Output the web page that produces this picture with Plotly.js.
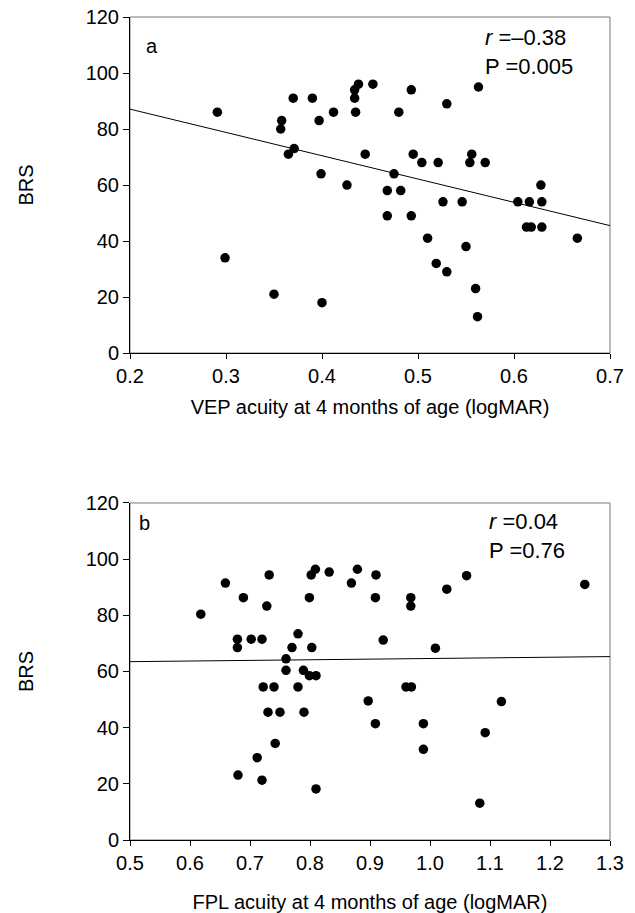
<!DOCTYPE html>
<html>
<head>
<meta charset="utf-8">
<script src="https://cdn.plot.ly/plotly-3.0.1.min.js"></script>
<style>html,body{margin:0;padding:0;background:#fff}#chart{width:635px;height:913px}</style>
</head>
<body>
<div id="chart"></div>
<script>
// Panel a: VEP acuity (logMAR) vs BRS
const vepAcuity = [0.291,0.358,0.357,0.370,0.390,0.397,0.412,0.434,0.434,0.438,0.435,0.453,0.371,0.365,0.445,0.399,0.426,
  0.493,0.563,0.480,0.530,0.495,0.504,0.521,0.556,0.554,0.570,0.475,0.628,0.468,0.482,0.468,0.493,0.526,0.546,0.604,0.616,0.629,
  0.613,0.618,0.629,0.666,0.510,0.550,0.519,0.530,0.560,0.562,0.299,0.350,0.400];
const vepBRS = [86,83,80,91,91,83,86,91,94,96,86,96,73,71,71,64,60,
  94,95,86,89,71,68,68,71,68,68,64,60,58,58,49,49,54,54,54,54,54,
  45,45,45,41,41,38,32,29,23,13,34,21,18];
const vepFitX = [0.2, 0.7];
const vepFitY = [87.1, 45.5];

// Panel b: FPL acuity (logMAR) vs BRS
const fplAcuity = [0.618,0.659,0.689,0.732,0.728,0.799,0.802,0.809,0.832,0.869,0.879,0.910,0.909,0.679,0.679,0.702,0.720,0.780,
  0.770,0.803,0.760,0.760,0.789,0.799,0.810,0.722,0.740,0.780,0.897,0.968,0.968,1.028,1.061,1.258,0.922,1.009,0.960,0.969,1.119,
  0.730,0.750,0.790,0.909,0.742,0.712,0.680,0.720,0.810,0.989,0.989,1.092,1.083];
const fplBRS = [80.4,91.5,86.3,94.4,83.3,86.3,94.4,96.4,95.4,91.5,96.4,94.4,86.3,71.5,68.5,71.5,71.5,73.4,
  68.5,68.5,64.5,60.4,60.4,58.5,58.5,54.5,54.5,54.5,49.5,86.3,83.3,89.3,94.1,91.0,71.2,68.3,54.5,54.5,49.3,
  45.5,45.5,45.5,41.4,34.4,29.3,23.1,21.3,18.2,41.4,32.3,38.2,13.1];
const fplFitX = [0.5, 1.3];
const fplFitY = [63.5, 65.3];

const panelLabels = ['a', 'b'];
const statsA = ['<i>r</i> =\u20130.38', 'P =0.005'];
const statsB = ['<i>r</i> =0.04', 'P =0.76'];
const xTitleA = 'VEP acuity at 4 months of age (logMAR)';
const xTitleB = 'FPL acuity at 4 months of age (logMAR)';
const yTitle = 'BRS';
const yTicks = [0,20,40,60,80,100,120];
const xTicksA = [0.2,0.3,0.4,0.5,0.6,0.7];
const xTicksB = [0.5,0.6,0.7,0.8,0.9,1.0,1.1,1.2,1.3];

const FONT = 'Liberation Sans, Arial, sans-serif';
const dot = {color:'#000', size:9.5};

const traces = [
  {x: vepAcuity, y: vepBRS, type:'scatter', mode:'markers', marker: dot, xaxis:'x', yaxis:'y', showlegend:false, cliponaxis:false},
  {x: vepFitX, y: vepFitY, type:'scatter', mode:'lines', line:{color:'#000', width:1}, xaxis:'x', yaxis:'y', showlegend:false},
  {x: fplAcuity, y: fplBRS, type:'scatter', mode:'markers', marker: dot, xaxis:'x2', yaxis:'y2', showlegend:false, cliponaxis:false},
  {x: fplFitX, y: fplFitY, type:'scatter', mode:'lines', line:{color:'#000', width:1}, xaxis:'x2', yaxis:'y2', showlegend:false}
];

function xax(range, ticks, title, anchor, standoff){
  return {range: range, tickvals: ticks, ticktext: ticks.map(v=>v.toFixed(1)), anchor: anchor,
    showline:true, linecolor:'#000', linewidth:1, ticks:'outside', ticklen:5, tickcolor:'#000',
    showgrid:false, zeroline:false, tickfont:{family:FONT, size:20, color:'#000'},
    title:{text:title, font:{family:FONT, size:20, color:'#000'}, standoff:standoff}};
}
function yax(domain, anchor){
  return {range:[0,120], tickvals: yTicks, domain: domain, anchor: anchor,
    showline:true, linecolor:'#000', linewidth:1, ticks:'outside', ticklen:6, tickcolor:'#000',
    showgrid:false, zeroline:false, tickfont:{family:FONT, size:20, color:'#000'},
    title:{text:yTitle, font:{family:FONT, size:20, color:'#000'}, standoff:46}};
}

const ann = [];
function addAnn(txt, xr, yr, x, y, xanchor, size){
  ann.push({text:txt, xref:xr, yref:yr, x:x, y:y, xanchor:xanchor, yanchor:'middle', showarrow:false,
    font:{family:FONT, size:size, color:'#000'}});
}
addAnn(panelLabels[0], 'x domain', 'y domain', 0.03, 0.915, 'left', 20);
addAnn(statsA[0], 'x domain', 'y domain', 0.735, 0.94, 'left', 22);
addAnn(statsA[1], 'x domain', 'y domain', 0.735, 0.852, 'left', 22);
addAnn(panelLabels[1], 'x2 domain', 'y2 domain', 0.015, 0.94, 'left', 20);
addAnn(statsB[0], 'x2 domain', 'y2 domain', 0.743, 0.945, 'left', 22);
addAnn(statsB[1], 'x2 domain', 'y2 domain', 0.743, 0.86, 'left', 22);

const shapes = [
  {type:'rect', xref:'x domain', yref:'y domain', x0:0, x1:1, y0:0, y1:1, line:{color:'#777', width:1}, layer:'below'},
  {type:'rect', xref:'x2 domain', yref:'y2 domain', x0:0, x1:1, y0:0, y1:1, line:{color:'#777', width:1}, layer:'below'}
];

const layout = {
  width:635, height:913,
  margin:{l:130, r:25, t:17, b:73},
  paper_bgcolor:'#fff', plot_bgcolor:'#fff',
  font:{family:FONT, color:'#000'},
  xaxis: xax([0.2,0.7], xTicksA, xTitleA, 'y', 13),
  yaxis: yax([0.5917,1], 'x'),
  xaxis2: xax([0.5,1.3], xTicksB, xTitleB, 'y2', 21),
  yaxis2: yax([0,0.4095], 'x2'),
  annotations: ann,
  shapes: shapes
};

Plotly.newPlot('chart', traces, layout, {staticPlot:true, displayModeBar:false});
</script>
</body>
</html>
